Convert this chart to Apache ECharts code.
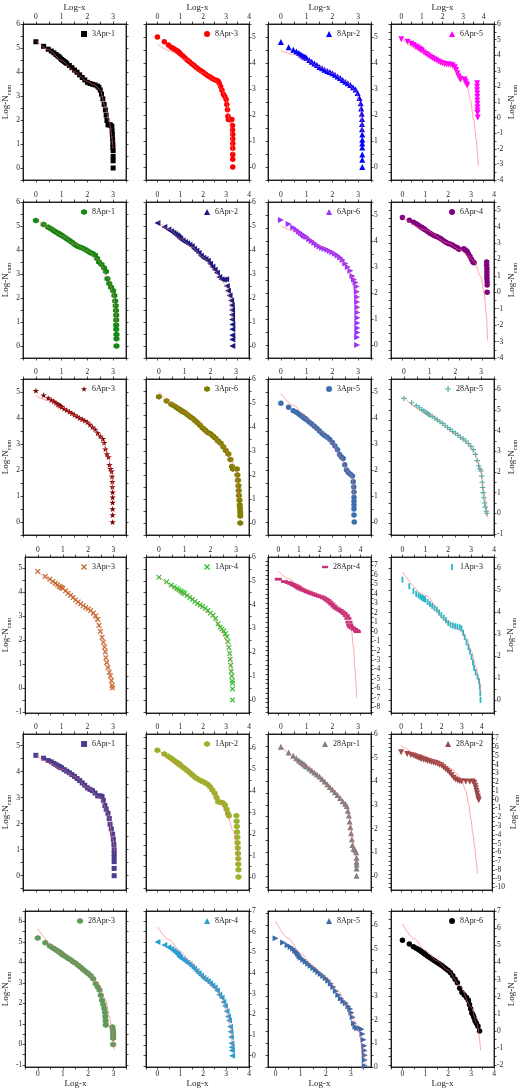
<!DOCTYPE html>
<html>
<head>
<meta charset="utf-8">
<script src="https://cdn.jsdelivr.net/npm/echarts@6/dist/echarts.min.js"></script>
<style>
  html, body { margin: 0; padding: 0; background: #fff; }
  #chart { width: 521px; height: 1090px; }
</style>
</head>
<body>
<div id="chart"></div>
<script>
// panel labels, row by row
const labels = ['3Apr-1', '8Apr-3', '8Apr-2', '6Apr-5',
  '8Apr-1', '6Apr-2', '6Apr-6', '6Apr-4',
  '6Apr-3', '3Apr-6', '3Apr-5', '28Apr-5',
  '3Apr-3', '1Apr-4', '28Apr-4', '1Apr-3',
  '6Apr-1', '1Apr-2', '28Apr-1', '28Apr-2',
  '28Apr-3', '8Apr-4', '8Apr-5', '8Apr-6']

// axis limits (Log-x, Log-Ncum)
const xRanges = [[-0.5, 3.5], [-0.5, 4], [-0.5, 3.5], [-0.5, 4.5],
  [-0.5, 3.5], [-0.5, 4], [-0.5, 3.5], [-0.5, 4],
  [-0.5, 3.5], [-0.5, 3.5], [-0.5, 3.5], [-0.5, 3.5],
  [-0.5, 3.5], [-0.5, 3.5], [-0.5, 4.5], [-0.5, 4],
  [-0.5, 3.5], [-0.5, 4], [-0.5, 3.5], [-0.5, 4.5],
  [-0.5, 3.5], [-0.5, 4], [-0.3, 3.8], [-0.5, 4]]
const yRanges = [[-0.5, 6], [-0.5, 5.5], [-0.5, 5.5], [-4, 6],
  [-0.5, 6], [-0.5, 6], [-0.5, 5.5], [-4, 5.5],
  [-0.5, 5.5], [-0.5, 6], [-0.5, 5.5], [-1.05, 6.5],
  [-1.05, 5.45], [-0.55, 6], [-8.6, 7.9], [-0.6, 6.5],
  [-0.55, 5.45], [-0.6, 6.65], [-0.6, 6], [-10.3, 7.5],
  [-1.1, 6.5], [-0.55, 7], [0, 6.6], [-2.1, 7]]
const tickStep = 0.5

// observed points
const apr3_1 = [[0,5.26],[.3,5.07],[.48,4.95],[.6,4.87],[.7,4.8],[.78,4.73],[.85,4.67],[.9,4.63],[.95,4.58],[1,4.52],[1.05,4.48],[1.1,4.44],[1.15,4.4],[1.2,4.36],[1.3,4.27],[1.4,4.18],[1.5,4.08],[1.6,3.99],[1.7,3.88],[1.8,3.77],[1.9,3.67],[2,3.57],[2.1,3.52],[2.2,3.49],[2.3,3.46],[2.4,3.41],[2.45,3.35],[2.5,3.25],[2.55,3.08],[2.6,2.88],[2.65,2.65],[2.7,2.42],[2.73,2.2],[2.76,1.98],[2.8,1.8],[2.85,1.8],[2.9,1.79],[2.95,1.74],[2.96,1.55],[2.97,1.4],[2.98,1.2],[2.99,1.0],[2.99,0.85],[3,0.72],[3,0.48],[3,0.3],[3,0]]
const apr8_3 = [[0,5],[.3,4.82],[.48,4.69],[.6,4.61],[.7,4.56],[.78,4.51],[.85,4.47],[.9,4.44],[.95,4.4],[1,4.36],[1.1,4.28],[1.2,4.2],[1.3,4.12],[1.4,4.05],[1.5,3.97],[1.6,3.9],[1.7,3.83],[1.8,3.76],[1.9,3.7],[2,3.64],[2.1,3.58],[2.2,3.51],[2.3,3.46],[2.4,3.4],[2.5,3.36],[2.6,3.33],[2.65,3.3],[2.7,3.22],[2.76,3.1],[2.82,2.95],[2.88,2.8],[2.94,2.72],[3,2.6],[3.03,2.4],[3.06,2.2],[3.08,1.95],[3.1,1.83],[3.18,1.82],[3.25,1.83],[3.28,1.6],[3.28,1.42],[3.29,1.25],[3.29,1.08],[3.29,0.9],[3.29,0.72],[3.29,0.48],[3.29,0.3],[3.29,0]]
const apr8_2 = [[0,4.81],[.3,4.61],[.48,4.51],[.6,4.44],[.7,4.38],[.78,4.33],[.85,4.28],[.9,4.25],[.95,4.22],[1,4.19],[1.1,4.12],[1.2,4.05],[1.3,3.98],[1.4,3.92],[1.5,3.85],[1.6,3.8],[1.7,3.74],[1.8,3.69],[1.9,3.65],[2,3.61],[2.1,3.55],[2.2,3.48],[2.3,3.42],[2.4,3.35],[2.5,3.28],[2.6,3.22],[2.7,3.15],[2.8,3.07],[2.9,2.98],[2.98,2.85],[3.05,2.65],[3.1,2.45],[3.12,2.25],[3.14,2.05],[3.15,1.85],[3.15,1.65],[3.15,1.45],[3.16,1.25],[3.16,1.05],[3.16,0.9],[3.16,0.75],[3.16,0.48],[3.16,0.28],[3.16,0]]
const apr6_5 = [[0,5.03],[.3,4.86],[.48,4.74],[.6,4.66],[.7,4.56],[.78,4.5],[.85,4.43],[.9,4.38],[.95,4.33],[1,4.28],[1.1,4.18],[1.2,4.08],[1.3,3.99],[1.4,3.9],[1.5,3.82],[1.6,3.74],[1.7,3.67],[1.8,3.6],[1.9,3.54],[2,3.48],[2.1,3.44],[2.2,3.41],[2.3,3.4],[2.4,3.38],[2.5,3.34],[2.6,3.22],[2.66,3.05],[2.72,2.85],[2.78,2.65],[2.84,2.5],[2.88,2.45],[3.08,2.45],[3.12,2.3],[3.16,2.15],[3.2,2.05],[3.68,2.2],[3.68,1.98],[3.68,1.76],[3.69,1.54],[3.69,1.32],[3.69,1.1],[3.7,0.88],[3.7,0.66],[3.7,0.45],[3.7,0.3],[3.71,0]]
const apr8_1 = [[0,5.23],[.3,5.06],[.48,4.95],[.6,4.87],[.7,4.8],[.78,4.75],[.85,4.71],[.9,4.68],[.95,4.64],[1,4.61],[1.1,4.54],[1.2,4.47],[1.3,4.4],[1.4,4.32],[1.5,4.24],[1.6,4.17],[1.7,4.12],[1.8,4.08],[1.9,4.03],[2,3.97],[2.1,3.9],[2.2,3.85],[2.3,3.78],[2.38,3.65],[2.45,3.5],[2.55,3.4],[2.65,3.25],[2.72,3.1],[2.78,2.8],[2.85,2.6],[2.92,2.45],[3,2.3],[3.05,2.1],[3.08,1.88],[3.1,1.68],[3.11,1.48],[3.12,1.28],[3.12,1.08],[3.12,0.88],[3.12,0.7],[3.13,0.48],[3.13,0.3],[3.13,0]]
const apr6_2 = [[0,5.13],[.3,4.96],[.48,4.85],[.6,4.78],[.7,4.72],[.78,4.66],[.85,4.6],[.9,4.56],[.95,4.51],[1,4.47],[1.1,4.4],[1.2,4.33],[1.3,4.28],[1.4,4.22],[1.5,4.16],[1.6,4.05],[1.7,3.97],[1.8,3.88],[1.9,3.76],[2,3.68],[2.1,3.62],[2.2,3.55],[2.3,3.43],[2.4,3.3],[2.5,3.18],[2.6,3.05],[2.7,2.88],[2.8,2.78],[2.9,2.76],[3,2.78],[3.03,2.5],[3.08,2.3],[3.15,2.1],[3.22,1.9],[3.25,1.7],[3.26,1.5],[3.26,1.3],[3.26,1.1],[3.27,0.9],[3.27,0.7],[3.27,0.45],[3.27,0.27],[3.27,0]]
const apr6_6 = [[0,4.81],[.3,4.65],[.48,4.52],[.6,4.43],[.7,4.36],[.78,4.3],[.85,4.25],[.9,4.21],[.95,4.18],[1,4.15],[1.1,4.07],[1.2,4.0],[1.3,3.92],[1.4,3.85],[1.5,3.79],[1.6,3.74],[1.7,3.7],[1.8,3.66],[1.9,3.62],[2,3.57],[2.1,3.51],[2.2,3.44],[2.3,3.37],[2.4,3.27],[2.5,3.13],[2.6,3.0],[2.7,2.86],[2.78,2.65],[2.84,2.52],[2.9,2.4],[2.94,2.25],[2.95,2.05],[2.96,1.85],[2.96,1.65],[2.97,1.45],[2.97,1.25],[2.97,1.05],[2.97,0.85],[2.97,0.65],[2.97,0.48],[2.96,0.3],[2.96,0]]
const apr6_4 = [[0,4.55],[.3,4.39],[.48,4.27],[.6,4.17],[.7,4.08],[.78,4.0],[.85,3.94],[.9,3.9],[.95,3.85],[1,3.8],[1.1,3.7],[1.2,3.6],[1.3,3.52],[1.4,3.45],[1.5,3.4],[1.6,3.33],[1.7,3.25],[1.8,3.14],[1.9,3.05],[2,2.98],[2.1,2.93],[2.2,2.87],[2.3,2.78],[2.4,2.72],[2.47,2.63],[2.68,2.66],[2.75,2.58],[2.82,2.5],[2.88,2.35],[2.95,2.2],[3.02,2.0],[3.08,1.85],[3.13,1.8],[3.68,1.85],[3.68,1.65],[3.69,1.45],[3.69,1.25],[3.69,1.05],[3.69,0.85],[3.7,0.65],[3.7,0.45],[3.7,0]]
const apr6_3 = [[0,5.05],[.3,4.88],[.48,4.77],[.6,4.69],[.7,4.64],[.78,4.58],[.85,4.53],[.9,4.5],[.95,4.47],[1,4.43],[1.1,4.36],[1.2,4.3],[1.3,4.24],[1.4,4.18],[1.5,4.12],[1.6,4.06],[1.7,4.0],[1.8,3.95],[1.9,3.9],[2,3.84],[2.1,3.75],[2.2,3.65],[2.3,3.56],[2.4,3.42],[2.5,3.3],[2.6,3.2],[2.65,3.05],[2.7,2.8],[2.76,2.62],[2.82,2.5],[2.86,2.2],[2.9,2.05],[2.94,1.95],[2.96,1.75],[2.97,1.55],[2.97,1.35],[2.98,1.15],[2.98,0.95],[2.98,0.75],[2.98,0.5],[2.98,0.27],[2.98,0]]
const apr3_6 = [[0,5.26],[.3,5.08],[.48,4.95],[.6,4.87],[.7,4.8],[.78,4.75],[.85,4.7],[.9,4.66],[.95,4.63],[1,4.6],[1.1,4.52],[1.2,4.44],[1.3,4.36],[1.4,4.27],[1.5,4.18],[1.6,4.07],[1.7,3.96],[1.8,3.86],[1.9,3.77],[2,3.72],[2.1,3.62],[2.2,3.53],[2.3,3.42],[2.4,3.32],[2.5,3.18],[2.6,3.02],[2.7,2.88],[2.78,2.65],[2.84,2.35],[2.87,2.25],[3.03,2.25],[3.05,2.0],[3.07,1.78],[3.09,1.55],[3.1,1.35],[3.11,1.15],[3.13,0.95],[3.14,0.75],[3.15,0.6],[3.16,0.45],[3.16,0.29],[3.16,0]]
const apr3_5 = [[0,4.57],[.3,4.41],[.48,4.28],[.6,4.22],[.7,4.15],[.78,4.1],[.85,4.05],[.9,4.0],[.95,3.97],[1,3.93],[1.1,3.85],[1.2,3.77],[1.3,3.68],[1.4,3.6],[1.5,3.5],[1.6,3.4],[1.7,3.33],[1.8,3.26],[1.9,3.17],[2,3.06],[2.1,2.92],[2.2,2.78],[2.28,2.6],[2.35,2.5],[2.42,2.44],[2.48,2.2],[2.55,2.0],[2.62,1.9],[2.7,1.84],[2.78,1.77],[2.81,1.55],[2.83,1.35],[2.84,1.15],[2.84,0.95],[2.84,0.8],[2.84,0.65],[2.84,0.5],[2.84,0.27],[2.85,0]]
const apr28_5 = [[0,5.56],[.3,5.35],[.48,5.21],[.6,5.11],[.7,5.02],[.78,4.95],[.85,4.89],[.9,4.85],[.95,4.8],[1,4.76],[1.1,4.68],[1.2,4.6],[1.3,4.52],[1.4,4.43],[1.5,4.35],[1.6,4.25],[1.7,4.15],[1.8,4.06],[1.9,3.96],[2,3.87],[2.1,3.78],[2.2,3.68],[2.3,3.6],[2.4,3.5],[2.5,3.38],[2.6,3.24],[2.7,3.08],[2.78,2.85],[2.84,2.55],[2.9,2.3],[2.95,2.15],[3,2.05],[3.02,1.8],[3.04,1.5],[3.06,1.25],[3.08,1.0],[3.1,0.75],[3.13,0.5],[3.16,0.3],[3.2,0.1],[3.22,0]]
const apr3_3 = [[0,4.85],[.3,4.64],[.48,4.53],[.6,4.43],[.7,4.36],[.78,4.29],[.85,4.23],[.9,4.2],[.95,4.17],[1,4.14],[1.1,4.04],[1.2,3.94],[1.3,3.85],[1.4,3.76],[1.5,3.66],[1.6,3.58],[1.7,3.5],[1.8,3.42],[1.9,3.35],[2,3.29],[2.1,3.22],[2.2,3.12],[2.3,3.0],[2.38,2.85],[2.43,2.6],[2.48,2.35],[2.55,2.1],[2.6,1.9],[2.65,1.7],[2.68,1.5],[2.7,1.25],[2.73,1.05],[2.78,0.85],[2.84,0.65],[2.88,0.5],[2.92,0.3],[2.95,0.1],[2.96,0]]
const apr1_4 = [[0,5.15],[.3,4.96],[.48,4.82],[.6,4.74],[.7,4.68],[.78,4.62],[.85,4.57],[.9,4.53],[.95,4.5],[1,4.46],[1.1,4.38],[1.2,4.3],[1.3,4.22],[1.4,4.13],[1.5,4.05],[1.6,3.98],[1.7,3.92],[1.8,3.85],[1.9,3.75],[2,3.65],[2.1,3.55],[2.2,3.42],[2.3,3.2],[2.38,3.05],[2.45,2.98],[2.52,2.9],[2.58,2.78],[2.64,2.65],[2.68,2.45],[2.72,2.2],[2.75,1.95],[2.77,1.7],[2.79,1.45],[2.81,1.2],[2.83,1.0],[2.85,0.8],[2.86,0.7],[2.86,0.46],[2.86,0]]
const apr28_4 = [[0,5.55],[.3,5.3],[.48,5.2],[.6,5.1],[.7,5.0],[.78,4.92],[.85,4.85],[.9,4.78],[.95,4.72],[1,4.6],[1.1,4.5],[1.2,4.4],[1.3,4.32],[1.4,4.22],[1.5,4.14],[1.6,4.05],[1.7,3.98],[1.8,3.9],[1.9,3.82],[2,3.75],[2.1,3.68],[2.2,3.58],[2.3,3.45],[2.4,3.3],[2.5,3.12],[2.6,2.92],[2.7,2.7],[2.8,2.5],[2.9,2.38],[3,2.25],[3.1,2.1],[3.2,1.92],[3.3,1.7],[3.38,1.4],[3.43,1.0],[3.47,0.7],[3.52,0.5],[3.6,0.38],[3.7,0.25],[3.8,0.1],[3.84,0]]
const apr1_3 = [[0,5.47],[.3,5.17],[.48,4.95],[.6,4.82],[.7,4.75],[.78,4.7],[.85,4.65],[.9,4.62],[.95,4.59],[1,4.56],[1.1,4.45],[1.2,4.36],[1.3,4.27],[1.4,4.18],[1.5,4.1],[1.6,3.97],[1.7,3.85],[1.8,3.74],[1.9,3.62],[2,3.5],[2.1,3.42],[2.2,3.38],[2.3,3.35],[2.4,3.33],[2.5,3.3],[2.58,3.25],[2.65,3.05],[2.72,2.85],[2.8,2.62],[2.88,2.4],[2.95,2.2],[3.02,1.95],[3.08,1.7],[3.13,1.45],[3.2,1.25],[3.28,1.05],[3.35,0.85],[3.38,0.6],[3.4,0.3],[3.41,0]]
const apr6_1 = [[0,4.63],[.3,4.52],[.48,4.43],[.6,4.38],[.7,4.32],[.78,4.27],[.85,4.23],[.9,4.2],[.95,4.17],[1,4.15],[1.1,4.08],[1.2,4.02],[1.3,3.96],[1.4,3.89],[1.5,3.82],[1.6,3.74],[1.7,3.66],[1.8,3.57],[1.9,3.48],[2,3.38],[2.1,3.32],[2.2,3.27],[2.3,3.18],[2.4,3.07],[2.5,3.07],[2.57,3.05],[2.62,2.9],[2.68,2.7],[2.73,2.56],[2.8,2.4],[2.85,2.2],[2.88,1.98],[2.93,1.8],[2.98,1.6],[3.01,1.4],[3.03,1.2],[3.04,1.0],[3.04,0.85],[3.04,0.7],[3.04,0.54],[3.04,0.28],[3.04,0]]
const apr1_2 = [[0,5.9],[.3,5.72],[.48,5.6],[.6,5.52],[.7,5.44],[.78,5.37],[.85,5.32],[.9,5.28],[.95,5.25],[1,5.2],[1.1,5.12],[1.2,5.03],[1.3,4.95],[1.4,4.86],[1.5,4.77],[1.6,4.67],[1.7,4.59],[1.8,4.53],[1.9,4.48],[2,4.43],[2.1,4.37],[2.2,4.3],[2.3,4.2],[2.4,4.05],[2.5,3.9],[2.58,3.7],[2.65,3.5],[2.75,3.48],[2.85,3.45],[2.95,3.35],[3.02,3.15],[3.08,2.95],[3.12,2.85],[3.45,2.85],[3.46,2.6],[3.47,2.35],[3.48,2.1],[3.49,1.85],[3.5,1.6],[3.51,1.35],[3.52,1.1],[3.53,0.85],[3.53,0.6],[3.54,0.34],[3.54,0]]
const apr28_1 = [[0,5.46],[.3,5.22],[.48,5.08],[.6,4.97],[.7,4.88],[.78,4.82],[.85,4.76],[.9,4.72],[.95,4.67],[1,4.62],[1.1,4.54],[1.2,4.46],[1.3,4.37],[1.4,4.29],[1.5,4.2],[1.6,4.1],[1.7,3.99],[1.8,3.87],[1.9,3.76],[2,3.65],[2.1,3.54],[2.2,3.42],[2.3,3.29],[2.4,3.16],[2.5,3.05],[2.56,2.95],[2.6,2.75],[2.64,2.55],[2.67,2.3],[2.7,2.05],[2.73,1.8],[2.76,1.55],[2.78,1.3],[2.82,1.15],[2.88,1.1],[2.92,1.0],[2.94,0.76],[2.94,0.6],[2.94,0.48],[2.94,0.31],[2.94,0]]
const apr28_2 = [[0,5.42],[.3,5.23],[.48,5.11],[.6,5.04],[.7,4.95],[.78,4.88],[.85,4.82],[.9,4.78],[.95,4.72],[1,4.66],[1.1,4.6],[1.2,4.52],[1.3,4.45],[1.4,4.38],[1.5,4.31],[1.6,4.25],[1.7,4.18],[1.8,4.1],[1.9,4.0],[2,3.9],[2.1,3.72],[2.2,3.52],[2.3,3.32],[2.4,3.08],[2.5,2.8],[2.6,2.5],[2.7,2.3],[2.8,2.18],[2.9,2.1],[3,2.08],[3.2,2.08],[3.4,2.05],[3.55,2.08],[3.62,1.9],[3.67,1.6],[3.7,1.3],[3.73,1.0],[3.76,0.7],[3.79,0.4],[3.82,0.15],[3.84,-0.05]]
const apr28_3 = [[0,5.18],[.3,4.95],[.48,4.8],[.6,4.7],[.7,4.62],[.78,4.56],[.85,4.5],[.9,4.46],[.95,4.4],[1,4.36],[1.1,4.28],[1.2,4.2],[1.3,4.12],[1.4,4.03],[1.5,3.95],[1.6,3.86],[1.7,3.76],[1.8,3.65],[1.9,3.55],[2,3.45],[2.1,3.35],[2.2,3.2],[2.3,2.95],[2.38,2.8],[2.45,2.65],[2.5,2.4],[2.55,2.15],[2.6,1.95],[2.64,1.75],[2.67,1.55],[2.68,1.35],[2.69,1.15],[2.7,0.95],[2.96,0.85],[2.98,0.7],[2.99,0.55],[2.99,0.42],[2.99,0.3],[2.99,0]]
const apr8_4 = [[0,5.5],[.3,5.35],[.48,5.24],[.6,5.16],[.7,5.08],[.78,5.0],[.85,4.93],[.9,4.88],[.95,4.8],[1,4.74],[1.1,4.66],[1.2,4.58],[1.3,4.5],[1.4,4.42],[1.5,4.33],[1.6,4.22],[1.7,4.1],[1.8,3.99],[1.9,3.88],[2,3.77],[2.1,3.68],[2.2,3.6],[2.3,3.5],[2.4,3.4],[2.5,3.3],[2.6,3.15],[2.7,2.95],[2.8,2.8],[2.88,2.6],[2.95,2.4],[3.02,2.15],[3.08,1.9],[3.13,1.7],[3.17,1.4],[3.19,1.15],[3.21,0.9],[3.23,0.6],[3.24,0.4],[3.25,0.25],[3.26,0]]
const apr8_5 = [[0,5.45],[.3,5.27],[.48,5.15],[.6,5.08],[.7,5.0],[.78,4.92],[.85,4.85],[.9,4.78],[.95,4.7],[1,4.62],[1.1,4.54],[1.2,4.45],[1.3,4.37],[1.4,4.28],[1.5,4.19],[1.6,4.1],[1.7,4.02],[1.8,3.93],[1.9,3.85],[2,3.76],[2.1,3.65],[2.2,3.52],[2.3,3.38],[2.4,3.22],[2.5,3.05],[2.6,2.9],[2.7,2.78],[2.8,2.7],[2.9,2.56],[2.97,2.45],[3.02,2.3],[3.07,2.1],[3.12,1.85],[3.18,1.7],[3.25,1.64],[3.35,1.64],[3.42,1.6],[3.46,1.4],[3.5,1.15],[3.53,0.9],[3.54,0.7],[3.55,0.5],[3.55,0.3],[3.55,0.05]]
const apr8_6 = [[0,5.29],[.3,5.08],[.48,4.92],[.6,4.83],[.7,4.75],[.78,4.68],[.85,4.62],[.9,4.58],[.95,4.52],[1,4.46],[1.1,4.36],[1.2,4.27],[1.3,4.18],[1.4,4.1],[1.5,4.01],[1.6,3.92],[1.7,3.83],[1.8,3.73],[1.9,3.63],[2,3.53],[2.1,3.4],[2.2,3.22],[2.3,3.02],[2.4,2.82],[2.5,2.5],[2.6,2.25],[2.7,2.1],[2.8,1.95],[2.88,1.8],[2.93,1.55],[2.98,1.3],[3.03,1.05],[3.08,0.95],[3.12,0.8],[3.17,0.6],[3.23,0.45],[3.3,0.27],[3.37,0]]

// fitted curves
const fit3_1 = [[0,5.3],[0.5,4.93],[1,4.48],[1.5,4.02],[2,3.6],[2.3,3.45],[2.5,3.25],[2.7,2.5],[2.85,1.9],[3,0.8]]
const fit8_3 = [[0,4.72],[0.6,4.45],[1.2,4.15],[2,3.62],[2.5,3.35],[2.8,3.0],[3,2.6],[3.15,1.8],[3.29,0.5]]
const fit8_2 = [[0,4.47],[0.5,4.33],[1,4.1],[1.5,3.85],[2,3.6],[2.5,3.3],[2.9,2.95],[3.05,2.5],[3.12,2.0],[3.16,1.3]]
const fit6_5 = [[0,5.05],[1,4.25],[2,3.5],[2.4,3.3],[2.62,3.0],[2.9,2.5],[3.19,2.03],[3.35,1.18],[3.51,-0.1],[3.64,-1.39],[3.71,-2.46],[3.74,-3.1]]
const fit8_1 = [[0,5.35],[0.5,4.95],[1,4.6],[1.5,4.25],[2,3.97],[2.4,3.6],[2.8,2.85],[3,2.2],[3.1,1.4],[3.13,0.9]]
const fit6_2 = [[0,5.22],[0.5,4.87],[1,4.47],[1.5,4.13],[2,3.7],[2.5,3.15],[2.8,2.75],[3,2.5],[3.15,2.0],[3.27,1.1]]
const fit6_6 = [[0,4.57],[0.5,4.4],[1,4.15],[1.5,3.8],[2,3.55],[2.5,3.15],[2.8,2.6],[2.93,2.2],[2.97,1.2]]
const fit6_4 = [[0,4.6],[1,3.8],[2,3.0],[2.5,2.6],[2.9,2.2],[3.13,1.86],[3.43,0.94],[3.57,-0.08],[3.66,-1.3],[3.72,-2.94]]
const fit6_3 = [[0,4.85],[0.5,4.67],[1,4.42],[1.5,4.1],[2,3.82],[2.5,3.3],[2.8,2.6],[2.95,1.9],[2.98,1.2]]
const fit3_6 = [[0,5.48],[0.5,4.98],[1,4.6],[1.5,4.18],[2,3.7],[2.5,3.2],[2.8,2.7],[3,2.1],[3.08,1.4],[3.12,1.0]]
const fit3_5 = [[0,4.95],[0.5,4.47],[1,3.98],[1.5,3.5],[2,3.05],[2.3,2.55],[2.55,2.0],[2.75,1.8],[2.84,1.0]]
const fit28_5 = [[0,5.6],[1,4.78],[2,3.88],[2.5,3.4],[2.8,2.8],[3,2.1],[3.1,1.1],[3.25,-0.2]]
const fit3_3 = [[0,4.85],[1,4.12],[2,3.3],[2.4,2.7],[2.6,2.0],[2.75,1.2],[2.96,-0.1]]
const fit1_4 = [[0,5.2],[1,4.45],[2,3.65],[2.4,3.0],[2.7,2.3],[2.86,0.9]]
const fit28_4 = [[0,6.42],[0.5,5.6],[1,4.9],[1.5,4.35],[2,3.9],[2.5,3.2],[3,2.5],[3.2,1.95],[3.4,1.15],[3.55,0.1],[3.65,-1.6],[3.72,-4],[3.8,-7]]
const fit1_3 = [[0,5.82],[1,4.75],[1.95,3.57],[2.5,3.2],[2.8,2.8],[3,2.25],[3.2,1.5],[3.35,0.9],[3.42,0.3]]
const fit6_1 = [[0,4.65],[0.5,4.35],[1,4.1],[1.5,3.82],[2,3.4],[2.5,3.0],[2.8,2.4],[3,1.4],[3.05,0.9]]
const fit1_2 = [[0,5.95],[1,5.2],[2,4.45],[2.5,3.9],[2.8,3.5],[3.04,2.9],[3.33,2.12],[3.47,1.35],[3.55,0.73]]
const fit28_1 = [[0,5.5],[1,4.62],[2,3.65],[2.5,3.05],[2.7,2.3],[2.8,1.4],[2.9,0.9],[2.94,0.5]]
const fit28_2 = [[0,6.17],[1,5.1],[2,4.1],[2.5,3.5],[2.8,2.9],[3,2.2],[3.2,1.0],[3.35,-0.6],[3.45,-2.2],[3.55,-3.9],[3.65,-5.6],[3.72,-7],[3.77,-8.4]]
const fit28_3 = [[0,5.63],[1,4.4],[1.5,3.95],[2,3.45],[2.4,2.95],[2.7,2.15],[2.85,1.3],[3.03,-0.26]]
const fit8_4 = [[0,6.22],[0.5,5.62],[1,5.05],[1.5,4.45],[2,3.82],[2.5,3.25],[2.8,2.8],[3.05,2.05],[3.2,1.3],[3.27,0.4]]
const fit8_5 = [[0,6.18],[0.5,5.45],[1,4.8],[1.5,4.25],[2,3.8],[2.5,3.2],[3,2.25],[3.3,1.6],[3.45,0.9],[3.58,0]]
const fit8_6 = [[0,6.24],[0.5,5.4],[1,4.7],[1.5,4.1],[2,3.55],[2.5,2.65],[3,1.4],[3.25,0.45],[3.42,-1.12]]

const pointSets = [apr3_1, apr8_3, apr8_2, apr6_5, apr8_1, apr6_2, apr6_6, apr6_4,
  apr6_3, apr3_6, apr3_5, apr28_5, apr3_3, apr1_4, apr28_4, apr1_3,
  apr6_1, apr1_2, apr28_1, apr28_2, apr28_3, apr8_4, apr8_5, apr8_6]
const fitSets = [fit3_1, fit8_3, fit8_2, fit6_5, fit8_1, fit6_2, fit6_6, fit6_4,
  fit6_3, fit3_6, fit3_5, fit28_5, fit3_3, fit1_4, fit28_4, fit1_3,
  fit6_1, fit1_2, fit28_1, fit28_2, fit28_3, fit8_4, fit8_5, fit8_6]

const colors = ['#000000', '#ff0000', '#0000ff', '#ff00ff',
  '#108a10', '#1a1a80', '#9b30ff', '#800080',
  '#800000', '#808000', '#3d6fb0', '#4bb5ae',
  '#c06a2b', '#2ec22e', '#c8307a', '#22b8c8',
  '#4a3d90', '#99b32a', '#7f7f7f', '#9e4848',
  '#5e9a5a', '#2c9fd0', '#3a6ba8', '#000000']

const HEX = 'path://M5,0 L10,2.5 L10,7.5 L5,10 L0,7.5 L0,2.5 Z'
const STAR = 'path://M50,0 L61,35 L98,35 L68,57 L79,91 L50,70 L21,91 L32,57 L2,35 L39,35 Z'
const CROSS = 'path://M0,1.5 L1.5,0 L5,3.5 L8.5,0 L10,1.5 L6.5,5 L10,8.5 L8.5,10 L5,6.5 L1.5,10 L0,8.5 L3.5,5 Z'
const PLUS = 'path://M4,0 L6,0 L6,4 L10,4 L10,6 L6,6 L6,10 L4,10 L4,6 L0,6 L0,4 L4,4 Z'
const DASH = 'path://M0,0 L10,0 L10,4 L0,4 Z'
const BAR = 'path://M0,0 L3,0 L3,10 L0,10 Z'
const symbols = ['rect', 'circle', 'triangle', 'triangle',
  HEX, 'triangle', 'triangle', 'circle',
  STAR, HEX, 'circle', PLUS,
  CROSS, CROSS, DASH, BAR,
  'rect', HEX, 'triangle', 'triangle',
  HEX, 'triangle', 'triangle', 'circle']
const rotations = [0, 0, 0, 180, 0, 90, -90, 0, 0, 0, 0, 0,
  0, 0, 0, 0, 0, 0, 0, 180, 0, 90, -90, 0]
const sizes = [5, 5.5, 6, 6, 6, 6, 6, 5.5, 6.5, 6, 5.5, 5.5,
  5.5, 5.5, 7, 6, 5, 6, 6, 6, 6, 6, 6, 5.5]

const colLefts = [23, 146, 268, 391]
const rowTops = [24, 202, 379, 557, 734, 911]
const W = 103
const H = 156
const FONT = 'Liberation Serif'

function tickVals(lo, hi) {
  const out = []
  for (let v = Math.ceil(lo / tickStep - 1e-9) * tickStep; v <= hi + 1e-9; v += tickStep) {
    out.push(Math.round(v * 10) / 10)
  }
  return out
}

function makeAxis(gi, pos, range, showLabel, name, nameGap) {
  const ticks = tickVals(range[0], range[1])
  const ax = {
    type: 'value', gridIndex: gi, position: pos,
    min: range[0], max: range[1],
    axisLine: { show: true, onZero: false, lineStyle: { color: '#000', width: 0.8 } },
    axisTick: { show: true, length: 2.5, customValues: ticks, lineStyle: { color: '#000', width: 0.7 } },
    axisLabel: {
      show: showLabel, customValues: ticks.filter(v => Number.isInteger(v)),
      fontSize: 7.5, fontFamily: FONT, color: '#222', margin: 3
    },
    splitLine: { show: false }
  }
  if (name) {
    ax.name = name
    ax.nameLocation = 'middle'
    ax.nameGap = nameGap
    ax.nameTextStyle = {
      fontFamily: FONT, fontSize: 9, color: '#222',
      rich: {
        a: { fontFamily: FONT, fontSize: 9, lineHeight: 9, verticalAlign: 'top', color: '#222' },
        b: { fontFamily: FONT, fontSize: 6, lineHeight: 6, verticalAlign: 'top', padding: [5, 0, 0, 0], color: '#222' }
      }
    }
  }
  return ax
}

const grids = []
const xAxes = []
const yAxes = []
const series = []
const legends = []
const yName = '{a|Log-N}{b|cum}'

for (let i = 0; i < 24; i++) {
  const r = Math.floor(i / 4)
  const c = i % 4
  grids.push({ left: colLefts[c], top: rowTops[r], width: W, height: H, show: true, borderColor: '#000', borderWidth: 0.8 })
  xAxes.push(makeAxis(i, 'top', xRanges[i], r < 5, r === 0 ? 'Log-x' : '', 11))
  xAxes.push(makeAxis(i, 'bottom', xRanges[i], r === 5, r === 5 ? 'Log-x' : '', 12))
  yAxes.push(makeAxis(i, 'left', yRanges[i], c === 0, c === 0 ? yName : '', 10))
  yAxes.push(makeAxis(i, 'right', yRanges[i], c > 0, c === 3 ? yName : '', 12))
  if (c === 0) yAxes[yAxes.length - 2].nameRotate = 90
  if (c === 3) yAxes[yAxes.length - 1].nameRotate = 90

  series.push({
    type: 'scatter', name: labels[i],
    xAxisIndex: 2 * i, yAxisIndex: 2 * i,
    data: pointSets[i],
    symbol: symbols[i], symbolRotate: rotations[i], symbolKeepAspect: true,
    symbolSize: sizes[i],
    itemStyle: { color: colors[i], opacity: 1 },
    silent: true, z: 2
  })
  series.push({
    type: 'line', name: 'fit' + i,
    xAxisIndex: 2 * i, yAxisIndex: 2 * i,
    data: fitSets[i], showSymbol: false, symbol: 'none',
    smooth: 0.3, smoothMonotone: 'x',
    lineStyle: { color: '#ff6a6a', width: 0.7, opacity: 0.85 },
    silent: true, z: 3
  })
  legends.push({
    data: [labels[i]], selectedMode: false,
    top: rowTops[r] + 6, right: 521 - (colLefts[c] + W) + 11,
    itemWidth: 6, itemHeight: 6, padding: 0,
    textStyle: { fontFamily: FONT, fontSize: 8, color: '#222' }
  })
}

const chart = echarts.init(document.getElementById('chart'))
chart.setOption({
  backgroundColor: '#fff',
  animation: false,
  grid: grids,
  xAxis: xAxes,
  yAxis: yAxes,
  legend: legends,
  series: series
})
</script>
</body>
</html>
